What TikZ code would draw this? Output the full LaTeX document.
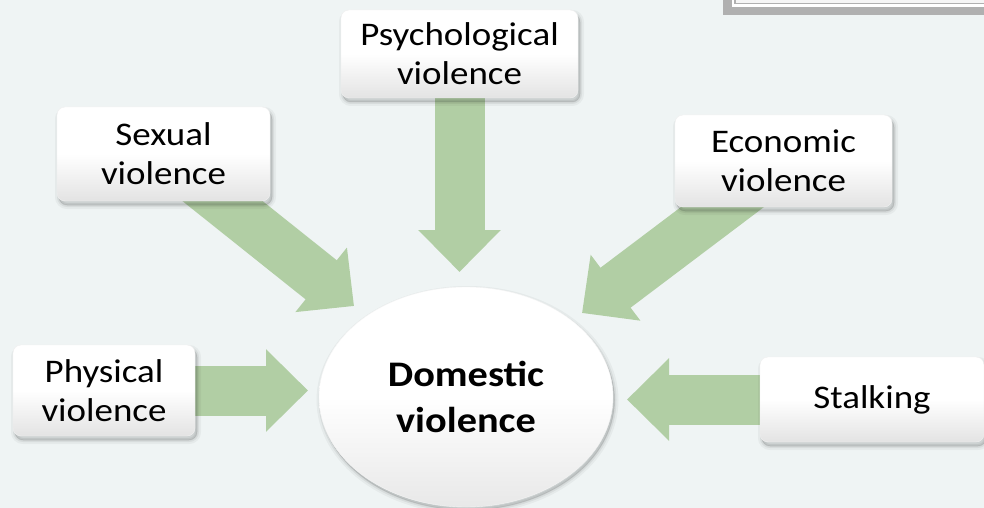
\documentclass[tikz,border=0pt]{standalone}
\usepackage{fontspec}
\setmainfont{Carlito}
\newfontfamily\boxfont[FakeStretch=1.12]{Carlito}
\newfontfamily\hubfont[FakeStretch=1.12]{Carlito}
\usetikzlibrary{arrows.meta,shapes.geometric}
\definecolor{pagebg}{HTML}{EFF4F4}
\definecolor{arrowgreen}{HTML}{B1CEA4}
\definecolor{framegray}{HTML}{B0B0B0}
\pgfdeclarelayer{back}
\pgfdeclarelayer{links}
\pgfsetlayers{back,links,main}

\begin{document}
\begin{tikzpicture}[x=1pt, y=-1pt,
    softshadow/.style={
      preaction={draw=black, draw opacity=0.04, line width=8pt, fill=black, fill opacity=0.10,
                 transform canvas={xshift=#1, yshift=-2*#1}},
      preaction={draw=black, draw opacity=0.06, line width=4pt,
                 transform canvas={xshift=#1, yshift=-2*#1}},
      preaction={draw=black, draw opacity=0.08, line width=1pt,
                 transform canvas={xshift=#1, yshift=-2*#1}}},
    box/.style={draw=gray!12, rounded corners=8pt, align=center, inner sep=0pt,
                font=\boxfont\fontsize{33}{39}\selectfont, softshadow=2pt,
                top color=white, bottom color=gray!22, middle color=white},
    hub/.style={ellipse, draw=gray!8, align=center, inner sep=0pt,
                minimum width=294pt, minimum height=220pt, softshadow=1.5pt,
                font=\hubfont\bfseries\fontsize{36}{46}\selectfont,
                top color=white, bottom color=gray!18, middle color=white},
    fat/.style={line width=50pt, arrowgreen, -{Triangle[length=42pt, width=80pt]}}
  ]
    \useasboundingbox (0,0) rectangle (984,508);
    \begin{pgfonlayer}{back}
      \fill[pagebg] (0,0) rectangle (984,508);
      \fill[framegray] (723,-1) rectangle (985,15);
      \fill[white] (732,-1) rectangle (985,7);
      \fill[framegray] (734,-1) rectangle (985,4);
      \fill[gray!8] (736,-1) rectangle (985,2.7);
    \end{pgfonlayer}

    \node[box, minimum width=237pt, minimum height=88pt] (psych) at (459.5,54) {Psychological\\violence};
    \node[box, minimum width=213pt, minimum height=94pt] (sexual) at (163.5,154) {Sexual\\violence};
    \node[box, minimum width=217pt, minimum height=92pt] (economic) at (783.5,161) {Economic\\violence};
    \node[box, minimum width=182pt, minimum height=91pt] (physical) at (104,390.5) {Physical\\violence};
    \node[box, minimum width=224pt, minimum height=85pt] (stalking) at (872,399.5) {Stalking};
    \node[hub] (dv) at (466,397) {Domestic\\violence};

    \coordinate (tipPsych) at (459.5,272);
    \coordinate (tipSex) at (354,306);
    \coordinate (tipEco) at (582,313);
    \coordinate (tipPhys) at (308,390.5);
    \coordinate (tipStalk) at (627,399.5);

    \begin{pgfonlayer}{links}
      \draw[fat] (psych.center) -- (tipPsych);
      \draw[fat] (sexual.center) -- (tipSex);
      \draw[fat] (economic.center) -- (tipEco);
      \draw[fat] (physical.center) -- (tipPhys);
      \draw[fat] (stalking.center) -- (tipStalk);
    \end{pgfonlayer}
  \end{tikzpicture}
\end{document}
